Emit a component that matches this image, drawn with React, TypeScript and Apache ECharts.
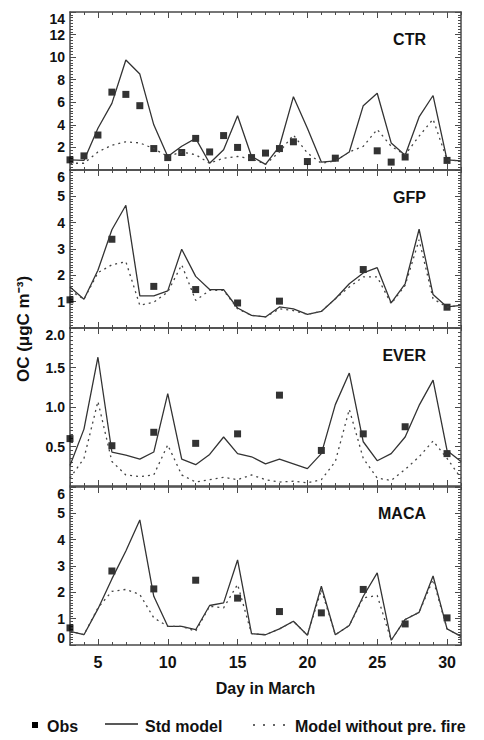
import { useEffect, useRef } from "react";
import * as echarts from "echarts";

// Day in March
const DAYS = [3, 4, 5, 6, 7, 8, 9, 10, 11, 12, 13, 14, 15, 16, 17, 18, 19, 20, 21, 22, 23, 24, 25, 26, 27, 28, 29, 30, 31];
const X_TICKS = [5, 10, 15, 20, 25, 30];

const SITES = ["CTR", "GFP", "EVER", "MACA"];
const Y_MAX = [14, 6, 2, 6];
const Y_STEP = [2, 1, 0.5, 1];
const Y_MINOR = [8, 10, 10, 10];

// CTR
const CTR_STD = [0.9, 0.85, 3.7, 5.9, 9.75, 8.5, 4.0, 1.2, 2.1, 2.8, 0.6, 1.8, 4.8, 1.2, 0.5, 2.1, 6.5, 3.7, 0.7, 0.8, 1.6, 5.7, 6.8, 2.4, 1.3, 4.7, 6.6, 0.9, 0.8];
const CTR_NOFIRE = [0.6, 0.6, 1.6, 2.2, 2.5, 2.4, 1.9, 1.2, 1.6, 1.35, 0.6, 1.05, 1.2, 1.0, 0.5, 1.6, 3.1, 1.5, 0.6, 0.8, 1.6, 2.1, 3.6, 2.1, 1.35, 3.0, 4.5, 0.9, 0.8];
const CTR_OBS = [0.9, 1.25, 3.1, 6.9, 6.7, 5.7, 1.9, 1.1, 1.55, 2.8, 1.6, 3.05, 2.0, 1.1, 1.5, 1.9, 2.5, 0.75, null, 1.05, null, null, 1.7, 0.7, 1.15, null, null, 0.85, null];

// GFP
const GFP_STD = [1.56, 1.09, 2.19, 3.73, 4.66, 1.22, 1.22, 1.41, 2.99, 1.96, 1.46, 1.46, 0.76, 0.48, 0.42, 0.8, 0.73, 0.52, 0.63, 1.11, 1.68, 2.09, 2.29, 0.95, 1.68, 3.75, 1.27, 0.8, 0.86];
const GFP_NOFIRE = [1.43, 1.09, 2.1, 2.4, 2.52, 0.86, 0.98, 1.37, 2.4, 1.05, 1.43, 1.43, 0.73, 0.48, 0.42, 0.73, 0.66, 0.52, 0.63, 1.11, 1.56, 1.94, 1.94, 0.92, 1.62, 3.35, 1.11, 0.79, 0.86];
const GFP_OBS = [1.07, null, null, 3.37, null, null, 1.58, null, null, 1.46, null, null, 0.95, null, null, 1.02, null, null, null, null, null, 2.22, null, null, null, null, null, 0.79, null];

// EVER
const EVER_STD = [0.26, 0.72, 1.63, 0.43, 0.39, 0.34, 0.43, 1.17, 0.34, 0.27, 0.4, 0.62, 0.41, 0.37, 0.28, 0.34, 0.28, 0.22, 0.41, 1.03, 1.43, 0.56, 0.32, 0.41, 0.62, 1.02, 1.34, 0.45, 0.31];
const EVER_NOFIRE = [0.1, 0.35, 1.07, 0.31, 0.14, 0.12, 0.14, 0.52, 0.14, 0.05, 0.08, 0.11, 0.08, 0.14, 0.08, 0.05, 0.06, 0.04, 0.08, 0.31, 0.97, 0.35, 0.1, 0.07, 0.21, 0.37, 0.57, 0.35, 0.1];
const EVER_OBS = [0.6, null, null, 0.51, null, null, 0.68, null, null, 0.54, null, null, 0.66, null, null, 1.15, null, null, 0.45, null, null, 0.66, null, null, 0.75, null, null, 0.41, null];

// MACA
const MACA_STD = [0.52, 0.39, 1.37, 2.51, 3.57, 4.75, 1.85, 0.71, 0.71, 0.58, 1.5, 1.6, 3.23, 0.43, 0.39, 0.61, 0.9, 0.37, 2.23, 0.39, 0.74, 1.85, 2.74, 0.18, 0.97, 1.24, 2.62, 0.61, 0.33];
const MACA_NOFIRE = [0.52, 0.39, 1.41, 2.04, 2.11, 1.92, 1.03, 0.71, 0.71, 0.52, 1.47, 1.41, 2.3, 0.43, 0.39, 0.61, 0.9, 0.37, 2.1, 0.39, 0.74, 1.79, 1.88, 0.18, 0.97, 1.24, 2.49, 0.61, 0.33];
const MACA_OBS = [0.65, null, null, 2.81, null, null, 2.13, null, null, 2.46, null, null, 1.78, null, null, 1.27, null, null, 1.22, null, null, 2.11, null, null, 0.8, null, null, 1.03, null];

const STD = [CTR_STD, GFP_STD, EVER_STD, MACA_STD];
const NOFIRE = [CTR_NOFIRE, GFP_NOFIRE, EVER_NOFIRE, MACA_NOFIRE];
const OBS = [CTR_OBS, GFP_OBS, EVER_OBS, MACA_OBS];

const LEGEND = ["Obs", "Std model", "Model without pre. fire"];
const X_NAME = "Day in March";
const Y_NAME = "OC (\u03bcgC m\u207b\u00b3)";

export default function App() {
  const ref = useRef<HTMLDivElement>(null);

  useEffect(() => {
    const chart = echarts.init(ref.current!, null, { renderer: "svg" });
    const FONT = "'Liberation Sans', Arial, Helvetica, sans-serif";
    const AX = "#4a4a4a";
    const tops = [12, 170, 328, 487];
    const H = 158;
    const LEFT = 70;
    const W = 391;

    const grid = tops.map((t) => ({ left: LEFT, width: W, top: t, height: H }));
    const xAxis: any[] = [];
    const yAxis: any[] = [];
    const series: any[] = [];

    SITES.forEach((site, i) => {
      const xMain = xAxis.length;
      const base = { type: "value", gridIndex: i, min: 3, max: 31, splitLine: { show: false } };
      ["bottom", "top"].forEach((pos) => {
        xAxis.push({
          ...base,
          position: pos,
          axisLine: { show: true, onZero: false, lineStyle: { color: AX, width: 1.5 } },
          axisTick: { show: true, inside: true, length: 6, customValues: X_TICKS, lineStyle: { color: AX, width: 1 } },
          axisLabel: {
            show: pos === "bottom" && i === 3,
            customValues: X_TICKS,
            fontFamily: FONT,
            fontSize: 16,
            fontWeight: "bold",
            color: "#111",
            margin: 9,
          },
        });
        xAxis.push({
          ...base,
          position: pos,
          interval: 1,
          axisLine: { show: false, onZero: false },
          axisTick: { show: true, inside: true, length: 3, lineStyle: { color: AX, width: 1 } },
          axisLabel: { show: false },
        });
      });
      const yMain = yAxis.length;
      ["left", "right"].forEach((pos) => {
        yAxis.push({
          type: "value",
          gridIndex: i,
          position: pos,
          min: 0,
          max: Y_MAX[i],
          interval: Y_STEP[i],
          splitLine: { show: false },
          axisLine: { show: true, onZero: false, lineStyle: { color: AX, width: 1.5 } },
          axisTick: { show: true, inside: true, length: 6, lineStyle: { color: AX, width: 1 } },
          minorTick: { show: true, splitNumber: Y_MINOR[i], length: 3, lineStyle: { color: AX, width: 1 } },
          axisLabel: {
            show: pos === "left",
            showMinLabel: i === 3,
            fontFamily: FONT,
            fontSize: 14,
            fontWeight: "bold",
            color: "#111",
            margin: 5,
            verticalAlignMaxLabel: "top",
            verticalAlignMinLabel: "bottom",
            formatter: (v: number) => (i === 2 ? v.toFixed(1) : String(v)),
          },
        });
      });

      series.push({
        type: "line",
        name: LEGEND[1],
        xAxisIndex: xMain,
        yAxisIndex: yMain,
        data: DAYS.map((d, k) => [d, STD[i][k]]),
        symbol: "none",
        lineStyle: { color: "#333", width: 1.3 },
        silent: true,
      });
      series.push({
        type: "line",
        name: LEGEND[2],
        xAxisIndex: xMain,
        yAxisIndex: yMain,
        data: DAYS.map((d, k) => [d, NOFIRE[i][k]]),
        symbol: "none",
        lineStyle: { color: "#444", width: 1.3, type: [2, 4] },
        silent: true,
      });
      series.push({
        type: "scatter",
        name: LEGEND[0],
        xAxisIndex: xMain,
        yAxisIndex: yMain,
        data: DAYS.map((d, k) => [d, OBS[i][k]]).filter((p) => p[1] !== null),
        symbol: "rect",
        symbolSize: 7,
        itemStyle: { color: "#000" },
        clip: false,
        silent: true,
      });
    });

    const titleY = [39, 197, 355, 513];
    const graphic: any[] = SITES.map((s, i) => ({
      type: "text",
      x: 426,
      y: titleY[i],
      style: { text: s, fill: "#111", font: `bold 16px ${FONT}`, align: "right", verticalAlign: "middle" },
    }));
    graphic.push({
      type: "text",
      x: LEFT + W / 2,
      y: 688,
      style: { text: X_NAME, fill: "#111", font: `bold 16px ${FONT}`, align: "center", verticalAlign: "middle" },
    });
    graphic.push({
      type: "text",
      x: 23,
      y: 329,
      rotation: Math.PI / 2,
      style: { text: Y_NAME, fill: "#111", font: `bold 17px ${FONT}`, align: "center", verticalAlign: "middle" },
    });
    // legend
    const LY = 726;
    graphic.push({ type: "rect", shape: { x: 32, y: LY - 4, width: 6, height: 6 }, style: { fill: "#000" } });
    graphic.push({ type: "text", x: 47, y: LY, style: { text: LEGEND[0], fill: "#111", font: `bold 16px ${FONT}`, verticalAlign: "middle" } });
    graphic.push({ type: "line", shape: { x1: 105, y1: LY - 2, x2: 138, y2: LY - 2 }, style: { stroke: "#222", lineWidth: 1.5 } });
    graphic.push({ type: "text", x: 145, y: LY, style: { text: LEGEND[1], fill: "#111", font: `bold 16px ${FONT}`, verticalAlign: "middle" } });
    graphic.push({ type: "line", shape: { x1: 253, y1: LY - 1, x2: 286, y2: LY - 1 }, style: { stroke: "#333", lineWidth: 1.5, lineDash: [2, 8] } });
    graphic.push({ type: "text", x: 295, y: LY, style: { text: LEGEND[2], fill: "#111", font: `bold 16px ${FONT}`, verticalAlign: "middle" } });

    chart.setOption({
      animation: false,
      backgroundColor: "#fff",
      grid,
      xAxis,
      yAxis,
      series,
      graphic,
    });
    return () => chart.dispose();
  }, []);

  return <div ref={ref} style={{ position: "absolute", left: 0, top: 0, width: 484, height: 740 }} />;
}
